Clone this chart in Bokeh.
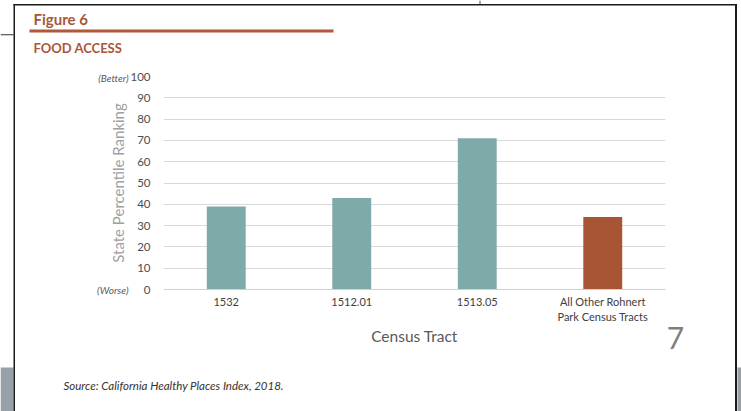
from bokeh.plotting import figure
from bokeh.models import Range1d, Label, FixedTicker, FactorRange, GridBox, Column
from bokeh.embed import file_html
from bokeh.resources import INLINE

# ---- data ----
tracts = ["1532", "1512.01", "1513.05", "All Other Rohnert\nPark Census Tracts"]
rankings = [39, 43, 71, 34]
bar_colors = ["#7eaaa9", "#7eaaa9", "#7eaaa9", "#a85536"]
y_ticks = [0, 10, 20, 30, 40, 50, 60, 70, 80, 90, 100]

FONT = "Lato"
BROWN = "#a9563a"
W, H = 741, 411

# ---------- background "page" layer (pixel coordinates, y downwards) ----------
bg = figure(width=W, height=H, x_range=Range1d(0, W), y_range=Range1d(H, 0),
            x_axis_type=None, y_axis_type=None, min_border=0,
            output_backend="svg", toolbar_location=None)
bg.outline_line_color = None
bg.background_fill_color = "white"
bg.border_fill_color = "white"

def rect(l, r, t, b, color):
    bg.quad(left=[l], right=[r], top=[t], bottom=[b], fill_color=color, line_color=None)

rect(0, 13, 367, H, "#97a1a7")          # grey page edge left
rect(737, W, 367, H, "#97a1a7")         # grey page edge right
rect(13, 14.5, 3.5, H, "#1a1a1a")       # page border left
rect(734.5, 736.5, 3.5, H, "#1a1a1a")   # page border right
rect(13, 736.5, 3.5, 5, "#1a1a1a")      # page border top
rect(0, 13, 33.8, 34.8, "#333333")      # small rule left
rect(479, 480, 0, 3.5, "#555555")       # small tick top
rect(29, 333, 29, 32, "#b0583a")        # title rule

def lab(text, x, y, size, color, style="normal", align="left"):
    bg.add_layout(Label(text=text, x=x, y=y, text_font=FONT, text_font_size=size,
                        text_color=color, text_font_style=style, text_align=align,
                        text_baseline="middle"))

lab("Figure 6", 33, 18, "15px", BROWN, "bold")
lab("FOOD ACCESS", 33, 47, "13px", BROWN, "bold")
lab("(Better)", 128, 77, "10px", "#595959", "italic", "right")
lab("(Worse)", 128, 289, "10px", "#595959", "italic", "right")
lab("7", 675, 337.5, "30px", "#7f7f7f", "normal", "center")
lab("Source: California Healthy Places Index, 2018.", 63, 385, "11.5px", "#333333", "italic")

# ---------- chart layer ----------
p = figure(width=W, height=H, x_range=FactorRange(*tracts), y_range=Range1d(0, 100),
           output_backend="svg", toolbar_location=None,
           min_border_left=163, min_border_right=76, min_border_top=76, min_border_bottom=122)
p.outline_line_color = None
p.background_fill_color = None
p.border_fill_color = None

p.vbar(x=tracts, top=rankings, width=0.31, fill_color=bar_colors, line_color=None)

p.xgrid.grid_line_color = None
p.ygrid.grid_line_color = "#d9d9d9"
p.ygrid.ticker = FixedTicker(ticks=y_ticks)

ya = p.yaxis[0]
ya.ticker = FixedTicker(ticks=y_ticks)
ya.axis_line_color = None
ya.major_tick_line_color = None
ya.minor_tick_line_color = None
ya.major_tick_out = 0
ya.major_tick_in = 0
ya.major_label_standoff = 13
ya.major_label_text_font = FONT
ya.major_label_text_font_size = "11.5px"
ya.major_label_text_color = "#4d4d4d"
ya.axis_label = "State Percentile Ranking"
ya.axis_label_text_font = FONT
ya.axis_label_text_font_style = "normal"
ya.axis_label_text_font_size = "15px"
ya.axis_label_text_color = "#a0a0a0"
ya.axis_label_standoff = 0

xa = p.xaxis[0]
xa.axis_line_color = "#d0d0d0"
xa.major_tick_line_color = None
xa.minor_tick_line_color = None
xa.major_tick_out = 0
xa.major_tick_in = 0
xa.major_label_standoff = 5
xa.major_label_text_font = FONT
xa.major_label_text_font_size = "11px"
xa.major_label_text_color = "#404040"
xa.axis_label = "Census Tract"
xa.axis_label_text_font = FONT
xa.axis_label_text_font_style = "normal"
xa.axis_label_text_font_size = "15.5px"
xa.axis_label_text_color = "#595959"
xa.axis_label_standoff = 1

layout = GridBox(children=[(Column(children=[bg]), 0, 0), (Column(children=[p]), 0, 0)])

open("out.html", "w").write(file_html(layout, INLINE))
